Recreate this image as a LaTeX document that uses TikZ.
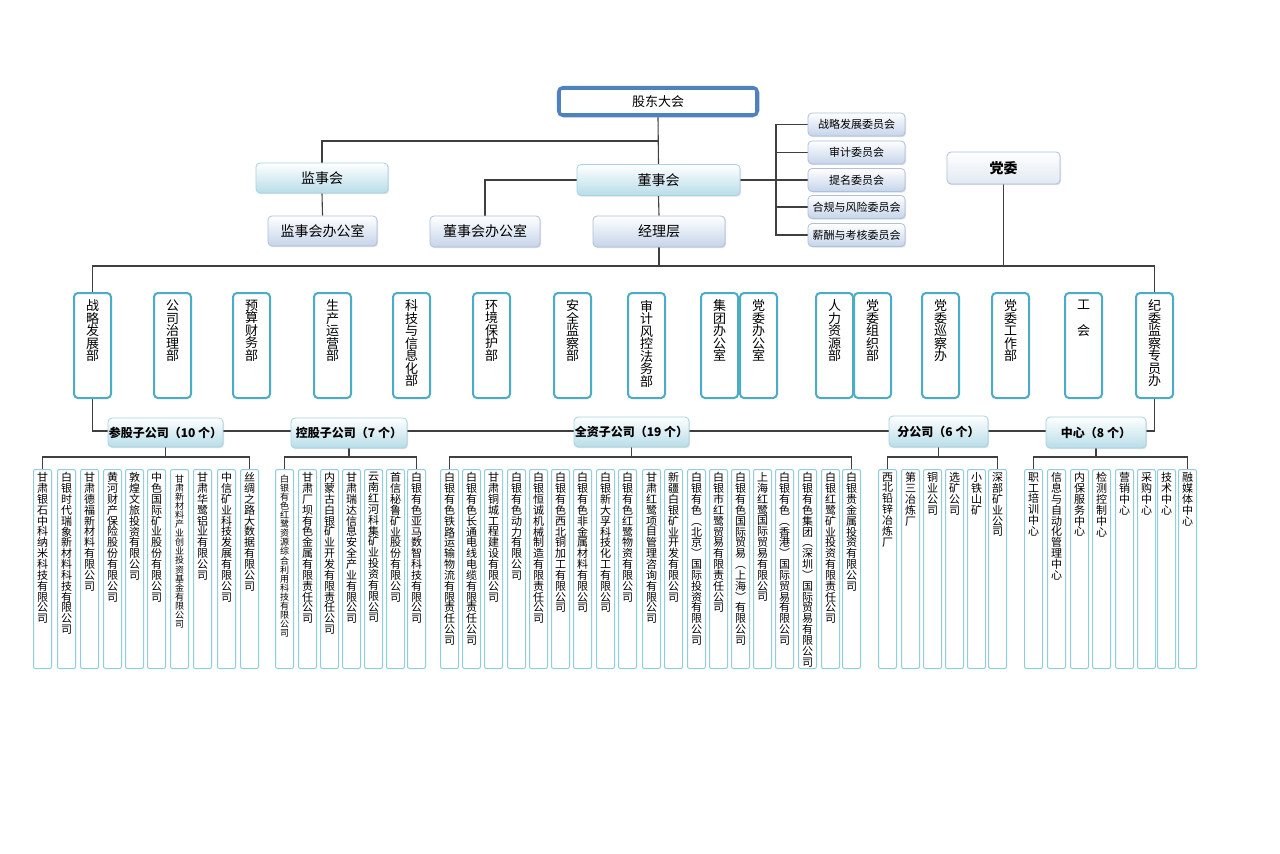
\documentclass[tikz,border=0pt]{standalone}
\usepackage{fontspec}
\setmainfont{Noto Sans CJK SC}
\usetikzlibrary{shadows}
\pgfdeclarelayer{bg}
\pgfdeclarelayer{paper}
\pgfsetlayers{paper,bg,main}
\definecolor{lnc}{HTML}{3F3F3F}
\definecolor{gdb}{HTML}{4F81BD}
\definecolor{cyb}{HTML}{B7DDE8}
\definecolor{cybd}{HTML}{A6D3E0}
\definecolor{lvb}{HTML}{C5D4EA}
\definecolor{lvbd}{HTML}{AFC0DA}
\definecolor{dwb}{HTML}{E2E9F2}
\definecolor{dpc}{HTML}{4BACC6}
\definecolor{bbc}{HTML}{92CDDC}
\def\vgob#1{}
\def\vstack#1{\vstB#1\relax}
\def\vstB#1#2{#1\ifx#2\relax\expandafter\vgob\else\expandafter\vstC\fi#2}
\def\vstC{\\\vstB}
\newcommand\deptbox[3]{\node[dept,anchor=north west] (#1) at (#2,292) {\parbox[t][97pt][t]{20pt}{\centering\fontsize{13}{12.5}\selectfont\vspace*{3pt}\vstack{#3}}};}
\newcommand\bb[3]{\node[bbox,anchor=north west] (#1) at (#2,469) {\parbox[t][193pt][t]{13pt}{\centering\fontsize{11}{10.85}\selectfont\vstack{#3}}};}
\newcommand\bbs[3]{\node[bbox,anchor=north west] (#1) at (#2,469) {\parbox[t][193pt][t]{13pt}{\centering\fontsize{9}{9.1}\selectfont\vspace*{2pt}\vstack{#3}}};}
\begin{document}
\begin{tikzpicture}[x=1pt,y=-1pt,
  ln/.style={draw=lnc,line width=1.1pt},
  cybox/.style={draw=cybd,line width=0.8pt,rounded corners=4pt,top color=white,bottom color=cyb,inner sep=0pt,drop shadow={opacity=0.25,shadow xshift=1pt,shadow yshift=-1.2pt}},
  lvbox/.style={draw=lvbd,line width=0.8pt,rounded corners=4pt,top color=white,bottom color=lvb,inner sep=0pt,drop shadow={opacity=0.25,shadow xshift=1pt,shadow yshift=-1.2pt}},
  catbox/.style={cybox,font=\fontsize{12}{14}\selectfont\bfseries},
  dept/.style={draw=dpc,line width=2pt,rounded corners=4pt,fill=white,inner xsep=8.5pt,inner ysep=4pt},
  bbox/.style={draw=bbc,line width=1pt,rounded corners=2pt,fill=white,inner xsep=2.5pt,inner ysep=3pt}]
\useasboundingbox (0,0) rectangle (1280,854);
\begin{pgfonlayer}{paper}
\fill[white] (0,0) rectangle (1280,854);
\end{pgfonlayer}

% top level
\node[draw=gdb,line width=3.5pt,rounded corners=5pt,fill=white,minimum width=199pt,minimum height=28pt,inner sep=0pt,font=\fontsize{13}{15}\selectfont] (gd) at (658,101.5) {股东大会};
\draw[gdb,line width=0.7pt] ([xshift=4pt,yshift=-4pt]gd.north west) rectangle ([xshift=-4pt,yshift=4pt]gd.south east);

\node[cybox,minimum width=132pt,minimum height=30pt,font=\fontsize{14}{16}\selectfont] (jsh) at (322,178) {监事会};
\node[lvbox,minimum width=109pt,minimum height=30pt,font=\fontsize{14}{16}\selectfont] (jsb) at (322.5,231) {监事会办公室};
\node[cybox,minimum width=163pt,minimum height=31pt,font=\fontsize{14}{16}\selectfont] (dsh) at (658.5,180) {董事会};
\node[lvbox,minimum width=110pt,minimum height=31pt,font=\fontsize{14}{16}\selectfont] (dsb) at (485,231.5) {董事会办公室};
\node[lvbox,minimum width=132pt,minimum height=31pt,font=\fontsize{14}{16}\selectfont] (jlc) at (659,231.5) {经理层};
\node[draw=lvbd,line width=0.8pt,rounded corners=4pt,top color=white,bottom color=dwb,inner sep=0pt,drop shadow={opacity=0.25,shadow xshift=1pt,shadow yshift=-1.2pt},minimum width=113pt,minimum height=32pt,font=\fontsize{14}{16}\selectfont\bfseries] (dw) at (1003.5,168) {党委};

\node[lvbox,minimum width=97pt,minimum height=23pt,font=\fontsize{11}{13}\selectfont] (c1) at (856.5,124.5) {战略发展委员会};
\node[lvbox,minimum width=97pt,minimum height=23pt,font=\fontsize{11}{13}\selectfont] (c2) at (856.5,152.5) {审计委员会};
\node[lvbox,minimum width=97pt,minimum height=23pt,font=\fontsize{11}{13}\selectfont] (c3) at (856.5,180) {提名委员会};
\node[lvbox,minimum width=97pt,minimum height=23pt,font=\fontsize{11}{13}\selectfont] (c4) at (856.5,207) {合规与风险委员会};
\node[lvbox,minimum width=97pt,minimum height=23pt,font=\fontsize{11}{13}\selectfont] (c5) at (856.5,235) {薪酬与考核委员会};

% departments
\deptbox{d1}{73}{战略发展部}
\deptbox{d2}{153}{公司治理部}
\deptbox{d3}{232}{预算财务部}
\deptbox{d4}{313}{生产运营部}
\deptbox{d5}{392}{科技与信息化部}
\deptbox{d6}{472}{环境保护部}
\deptbox{d7}{553}{安全监察部}
\deptbox{d8}{627}{审计风控法务部}
\deptbox{d9}{700}{集团办公室}
\deptbox{d10}{739}{党委办公室}
\deptbox{d11}{815}{人力资源部}
\deptbox{d12}{853}{党委组织部}
\deptbox{d13}{921}{党委巡察办}
\deptbox{d14}{991}{党委工作部}
\node[dept,anchor=north west] (d15) at (1064,292) {\parbox[t][97pt][t]{20pt}{\centering\fontsize{13}{12.5}\selectfont\vspace*{3pt}工\\[14pt]会}};
\deptbox{d16}{1135}{纪委监察专员办}

% category boxes
\node[catbox,minimum width=115pt,minimum height=29pt] (cg) at (165.5,432.5) {参股子公司（10 个）};
\node[catbox,minimum width=116pt,minimum height=30pt] (kg) at (349,433) {控股子公司（7 个）};
\node[catbox,minimum width=115pt,minimum height=30pt] (qz) at (631.5,432) {全资子公司（19 个）};
\node[catbox,minimum width=99pt,minimum height=31pt] (fg) at (938.5,431.5) {分公司（6 个）};
\node[catbox,minimum width=100pt,minimum height=31pt] (zx) at (1096,432.5) {中心（8 个）};

% group 1
\bb{a1}{33}{甘肃银石中科纳米科技有限公司}
\bb{a2}{57}{白银时代瑞象新材料科技有限公司}
\bb{a3}{80}{甘肃德福新材料有限公司}
\bb{a4}{103}{黄河财产保险股份有限公司}
\bb{a5}{125}{敦煌文旅投资有限公司}
\bb{a6}{147}{中色国际矿业股份有限公司}
\bbs{a7}{170}{甘肃新材料产业创业投资基金有限公司}
\bb{a8}{193}{甘肃华鹭铝业有限公司}
\bb{a9}{217}{中信矿业科技发展有限公司}
\bb{a10}{240}{丝绸之路大数据有限公司}
% group 2
\bbs{b1}{275}{白银有色红鹭资源综合利用科技有限公司}
\bb{b2}{298}{甘肃厂坝有色金属有限责任公司}
\bb{b3}{320}{内蒙古白银矿业开发有限责任公司}
\bb{b4}{342}{甘肃瑞达信息安全产业有限公司}
\bb{b5}{364}{云南红河科集矿业投资有限公司}
\bb{b6}{386}{首信秘鲁矿业股份有限公司}
\bb{b7}{407}{白银有色亚马数智科技有限公司}
% group 3
\bb{q1}{440}{白银有色铁路运输物流有限责任公司}
\bb{q2}{462}{白银有色长通电线电缆有限责任公司}
\bb{q3}{484}{甘肃铜城工程建设有限公司}
\bb{q4}{507}{白银有色动力有限公司}
\bb{q5}{529}{白银恒诚机械制造有限责任公司}
\bb{q6}{551}{白银有色西北铜加工有限公司}
\bb{q7}{573}{白银有色非金属材料有限公司}
\bb{q8}{596}{白银新大孚科技化工有限公司}
\bb{q9}{618}{白银有色红鹭物资有限公司}
\bb{q10}{642}{甘肃红鹭项目管理咨询有限公司}
\bb{q11}{664}{新疆白银矿业开发有限公司}
\bb{q12}{687}{白银有色︵北京︶国际投资有限公司}
\bb{q13}{709}{白银市红鹭贸易有限责任公司}
\bb{q14}{731}{白银有色国际贸易︵上海︶有限公司}
\bb{q15}{753}{上海红鹭国际贸易有限公司}
\bb{q16}{775}{白银有色︵香港︶国际贸易有限公司}
\bb{q17}{798}{白银有色集团︵深圳︶国际贸易有限公司}
\bb{q18}{821}{白银红鹭矿业投资有限责任公司}
\bb{q19}{842}{白银贵金属投资有限公司}
% group 4
\bb{f1}{878}{西北铅锌冶炼厂}
\bb{f2}{901}{第三冶炼厂}
\bb{f3}{923}{铜业公司}
\bb{f4}{945}{选矿公司}
\bb{f5}{967}{小铁山矿}
\bb{f6}{988}{深部矿业公司}
% group 5
\bb{z1}{1024}{职工培训中心}
\bb{z2}{1047}{信息与自动化管理中心}
\bb{z3}{1070}{内保服务中心}
\bb{z4}{1092}{检测控制中心}
\bb{z5}{1115}{营销中心}
\bb{z6}{1137}{采购中心}
\bb{z7}{1157}{技术中心}
\bb{z8}{1178}{融媒体中心}

\begin{pgfonlayer}{bg}
\draw[ln] (gd.south) -- (dsh.north);
\draw[ln] (gd.south |- 0,141) -| (jsh.north);
\draw[ln] (jsh.south) -- (jsb.north);
\draw[ln] (dsh.west) -| (dsb.north);
\draw[ln] (dsh.south) -- (jlc.north);
\draw[ln] (dsh.east) -- (c3.west);
\draw[ln] (c1.west) -- (c1.west -| 776,0) -- (c5.west -| 776,0) -- (c5.west);
\draw[ln] (c2.west -| 776,0) -- (c2.west);
\draw[ln] (c4.west -| 776,0) -- (c4.west);
\draw[ln] (jlc.south) -- (jlc.south |- 0,266);
\draw[ln] (dw.south) -- (dw.south |- 0,266);
\draw[ln] (d1.north) -- (d1.north |- 0,266) -- (d16.north |- 0,266) -- (d16.north);
\draw[ln] (d1.south) -- (d1.south |- 0,431) -- (d16.south |- 0,431) -- (d16.south);
\draw[ln] (cg.south) -- (cg.south |- 0,457);
\draw[ln] (a1.north) -- (a1.north |- 0,457) -- (a10.north |- 0,457) -- (a10.north);
\draw[ln] (kg.south) -- (kg.south |- 0,457);
\draw[ln] (b1.north) -- (b1.north |- 0,457) -- (b7.north |- 0,457) -- (b7.north);
\draw[ln] (qz.south) -- (qz.south |- 0,457);
\draw[ln] (q1.north) -- (q1.north |- 0,457) -- (q19.north |- 0,457) -- (q19.north);
\draw[ln] (fg.south) -- (fg.south |- 0,457);
\draw[ln] (f1.north) -- (f1.north |- 0,457) -- (f6.north |- 0,457) -- (f6.north);
\draw[ln] (zx.south) -- (zx.south |- 0,457);
\draw[ln] (z1.north) -- (z1.north |- 0,457) -- (z8.north |- 0,457) -- (z8.north);
\end{pgfonlayer}
\end{tikzpicture}
\end{document}
